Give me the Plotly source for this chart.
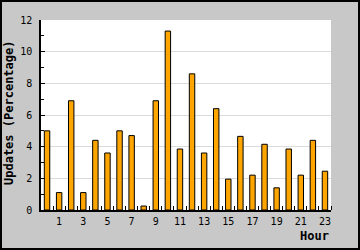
import plotly.graph_objects as go

hours = list(range(24))
updates = [5.0, 1.1, 6.9, 1.1, 4.4, 3.6, 5.0, 4.7, 0.25, 6.9, 11.3, 3.85,
           8.6, 3.6, 6.4, 1.95, 4.65, 2.2, 4.15, 1.4, 3.85, 2.2, 4.4, 2.45]
x_tick_vals = [1, 3, 5, 7, 9, 11, 13, 15, 17, 19, 21, 23]
x_tick_text = [str(v) for v in x_tick_vals]
y_tick_vals = [0, 2, 4, 6, 8, 10, 12]

W, H = 360, 250
L, R, T, B = 41, 29, 20, 40
pw, ph = W - L - R, H - T - B

fig = go.Figure(go.Bar(
    x=hours, y=updates, width=0.45,
    marker=dict(color="#FFA500", line=dict(color="black", width=1)),
))

font = dict(family="DejaVu Sans Mono", size=10, color="black")

fig.update_layout(
    width=W, height=H,
    margin=dict(l=L, r=R, t=T, b=B, pad=0),
    paper_bgcolor="#c8c8c8", plot_bgcolor="white",
    showlegend=False,
    font=font,
    xaxis=dict(
        range=[-0.5, 23.5], tickvals=x_tick_vals, ticktext=x_tick_text,
        ticks="", showgrid=False, zeroline=False,
        showline=True, linecolor="black", linewidth=1.5,
        tickfont=font, ticklabelstandoff=1,
        minor=dict(tickvals=[v + 0.5 for v in hours], ticks="inside",
                   ticklen=4, tickcolor="black", showgrid=False),
    ),
    yaxis=dict(
        range=[0, 12], tickvals=y_tick_vals, ticks="inside", ticklen=4,
        tickcolor="black", showgrid=True, gridcolor="#dcdcdc", gridwidth=1,
        zeroline=False, showline=True, linecolor="black", linewidth=1.5,
        tickfont=font, ticklabelstandoff=5,
        minor=dict(dtick=1, tick0=0, ticks="inside", ticklen=3,
                   tickcolor="black", showgrid=False),
    ),
    annotations=[
        dict(text="<b>Updates (Percentage)</b>", textangle=-90,
             xref="paper", yref="paper", x=(9 - L) / pw, y=(H - B - 113) / ph,
             xanchor="center", yanchor="middle", showarrow=False,
             font=dict(family="DejaVu Sans Mono", size=12, color="black")),
        dict(text="<b>Hour</b>", xref="paper", yref="paper",
             x=(330 - L) / pw, y=(H - B - 236) / ph,
             xanchor="right", yanchor="middle", showarrow=False, borderpad=0,
             font=dict(family="DejaVu Sans Mono", size=12, color="black")),
    ],
    shapes=[
        dict(type="rect", xref="paper", yref="paper",
             x0=(1 - L) / pw, x1=(W - 1 - L) / pw,
             y0=-(B - 1) / ph, y1=(ph + T - 1) / ph,
             line=dict(color="black", width=2), layer="above"),
    ],
)

fig.write_html("out.html")
